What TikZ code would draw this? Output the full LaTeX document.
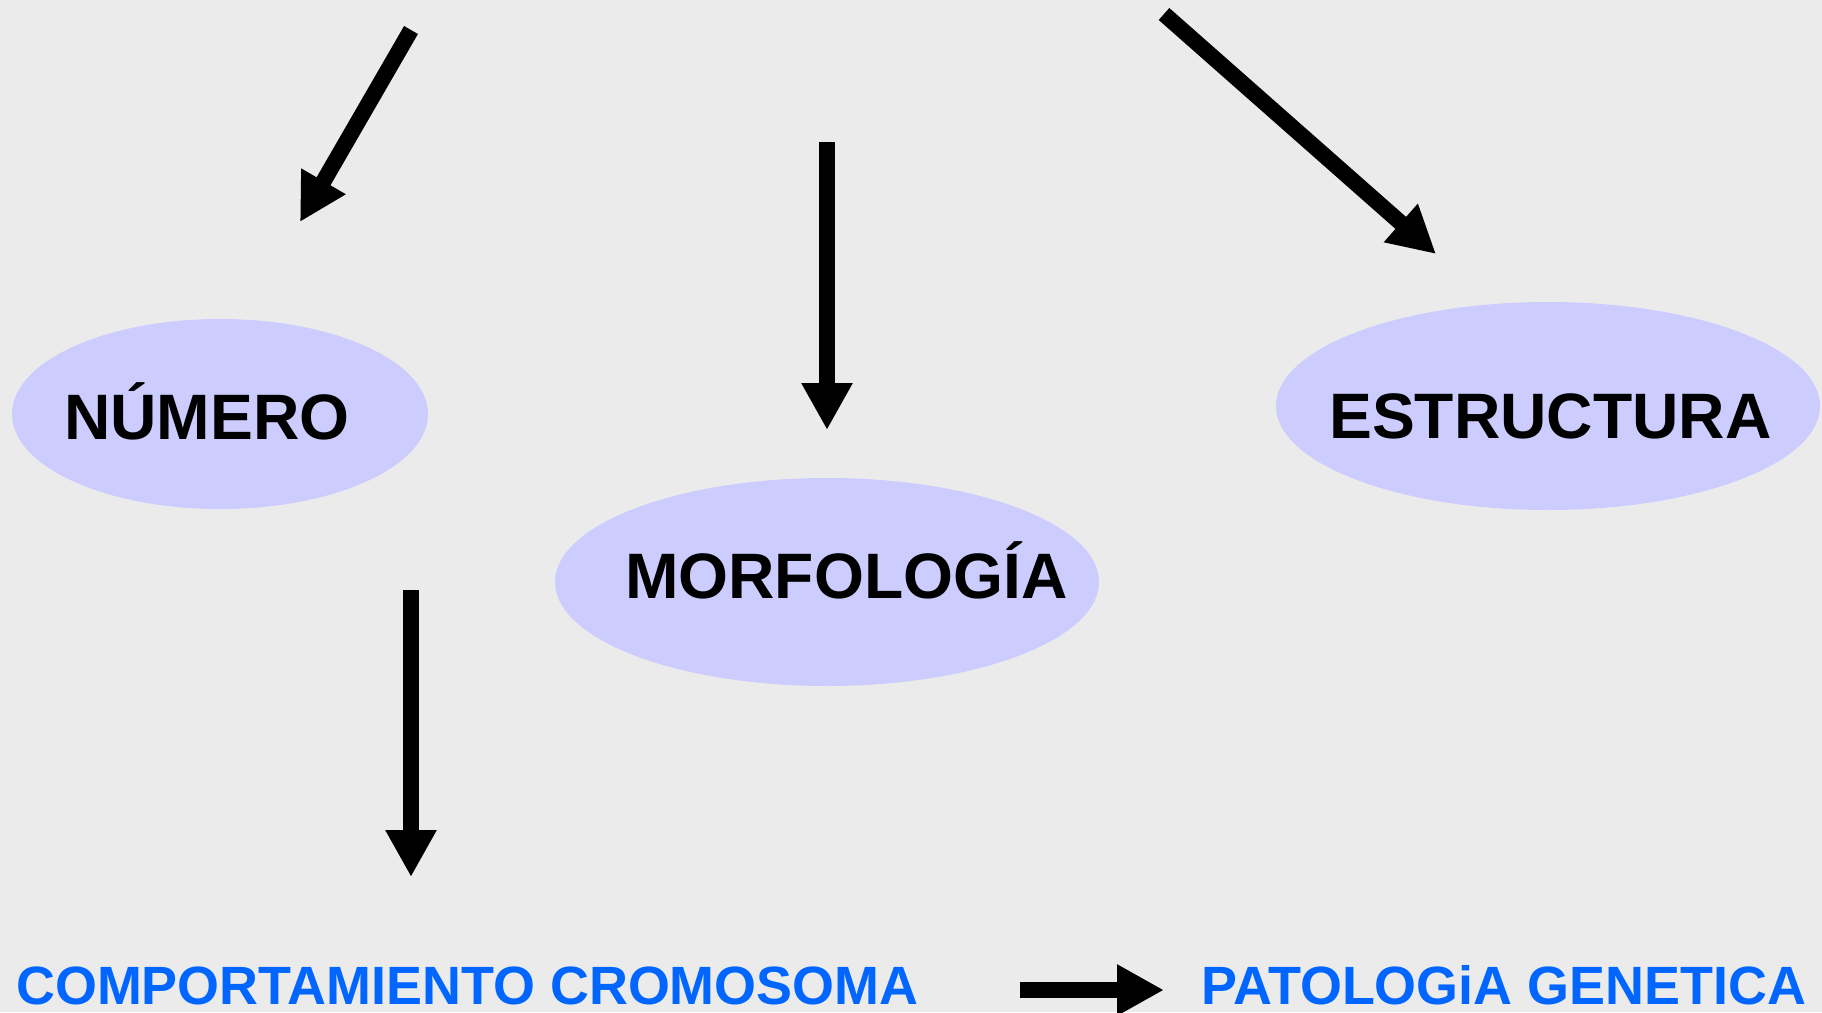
\documentclass[tikz,border=0pt]{standalone}
\usepackage{fontspec}
\setmainfont{Liberation Sans}
\usetikzlibrary{shapes.geometric,arrows.meta}
\definecolor{bgcol}{HTML}{EBEBEB}
\definecolor{ellcol}{HTML}{CCCCFF}
\definecolor{bluetxt}{HTML}{0066FF}
\tikzset{
  blob/.style={ellipse, fill=ellcol, draw=none, inner sep=0pt},
  bigtxt/.style={font=\fontsize{64.2}{70}\selectfont\bfseries, text=black, inner sep=0pt, anchor=base west},
  bluelbl/.style={font=\fontsize{53.9}{60}\selectfont\bfseries, text=bluetxt, inner sep=0pt, anchor=base west},
  fatarrow/.style={line width=16pt, draw=black, -{Triangle[length=47pt,width=48pt]}}
}
\begin{document}
\begin{tikzpicture}[x=1pt,y=-1pt]
\fill[bgcol] (0,0) rectangle (1822,1012);
\useasboundingbox (0,0) rectangle (1822,1012);
% ellipses
\node[blob, minimum width=416pt, minimum height=190pt] (num) at (220,414) {};
\node[blob, minimum width=544pt, minimum height=208pt] (mor) at (827,582) {};
\node[blob, minimum width=544pt, minimum height=208pt] (est) at (1548,406) {};
% labels
\node[bigtxt] (numt) at (64,439) {NÚMERO};
\node[bigtxt] (mort) at (625,598) {MORFOLOGÍA};
\node[bigtxt] (estt) at (1329,438) {ESTRUCTURA};
\node[bluelbl] (comp) at (16,1004) {COMPORTAMIENTO CROMOSOMA};
\node[bluelbl] (pat) at (1201,1004) {PATOLOGiA GENETICA};
% arrow endpoints
\coordinate (a1s) at (411,30);
\coordinate (a1e) at (300,222);
\coordinate (a2s) at (827,142);
\coordinate (a2e) at (827,430);
\coordinate (a3s) at (1164,14);
\coordinate (a3e) at (1436,254);
\coordinate (a4s) at (411,590);
\coordinate (a4e) at (411,877);
\coordinate (a5s) at (1020,990);
\coordinate (a5e) at (1164,990);
\draw[fatarrow] (a1s) -- (a1e);
\draw[fatarrow] (a2s) -- (a2e);
\draw[fatarrow] (a3s) -- (a3e);
\draw[fatarrow] (a4s) -- (a4e);
\draw[fatarrow] (a5s) -- (a5e);
\end{tikzpicture}
\end{document}
